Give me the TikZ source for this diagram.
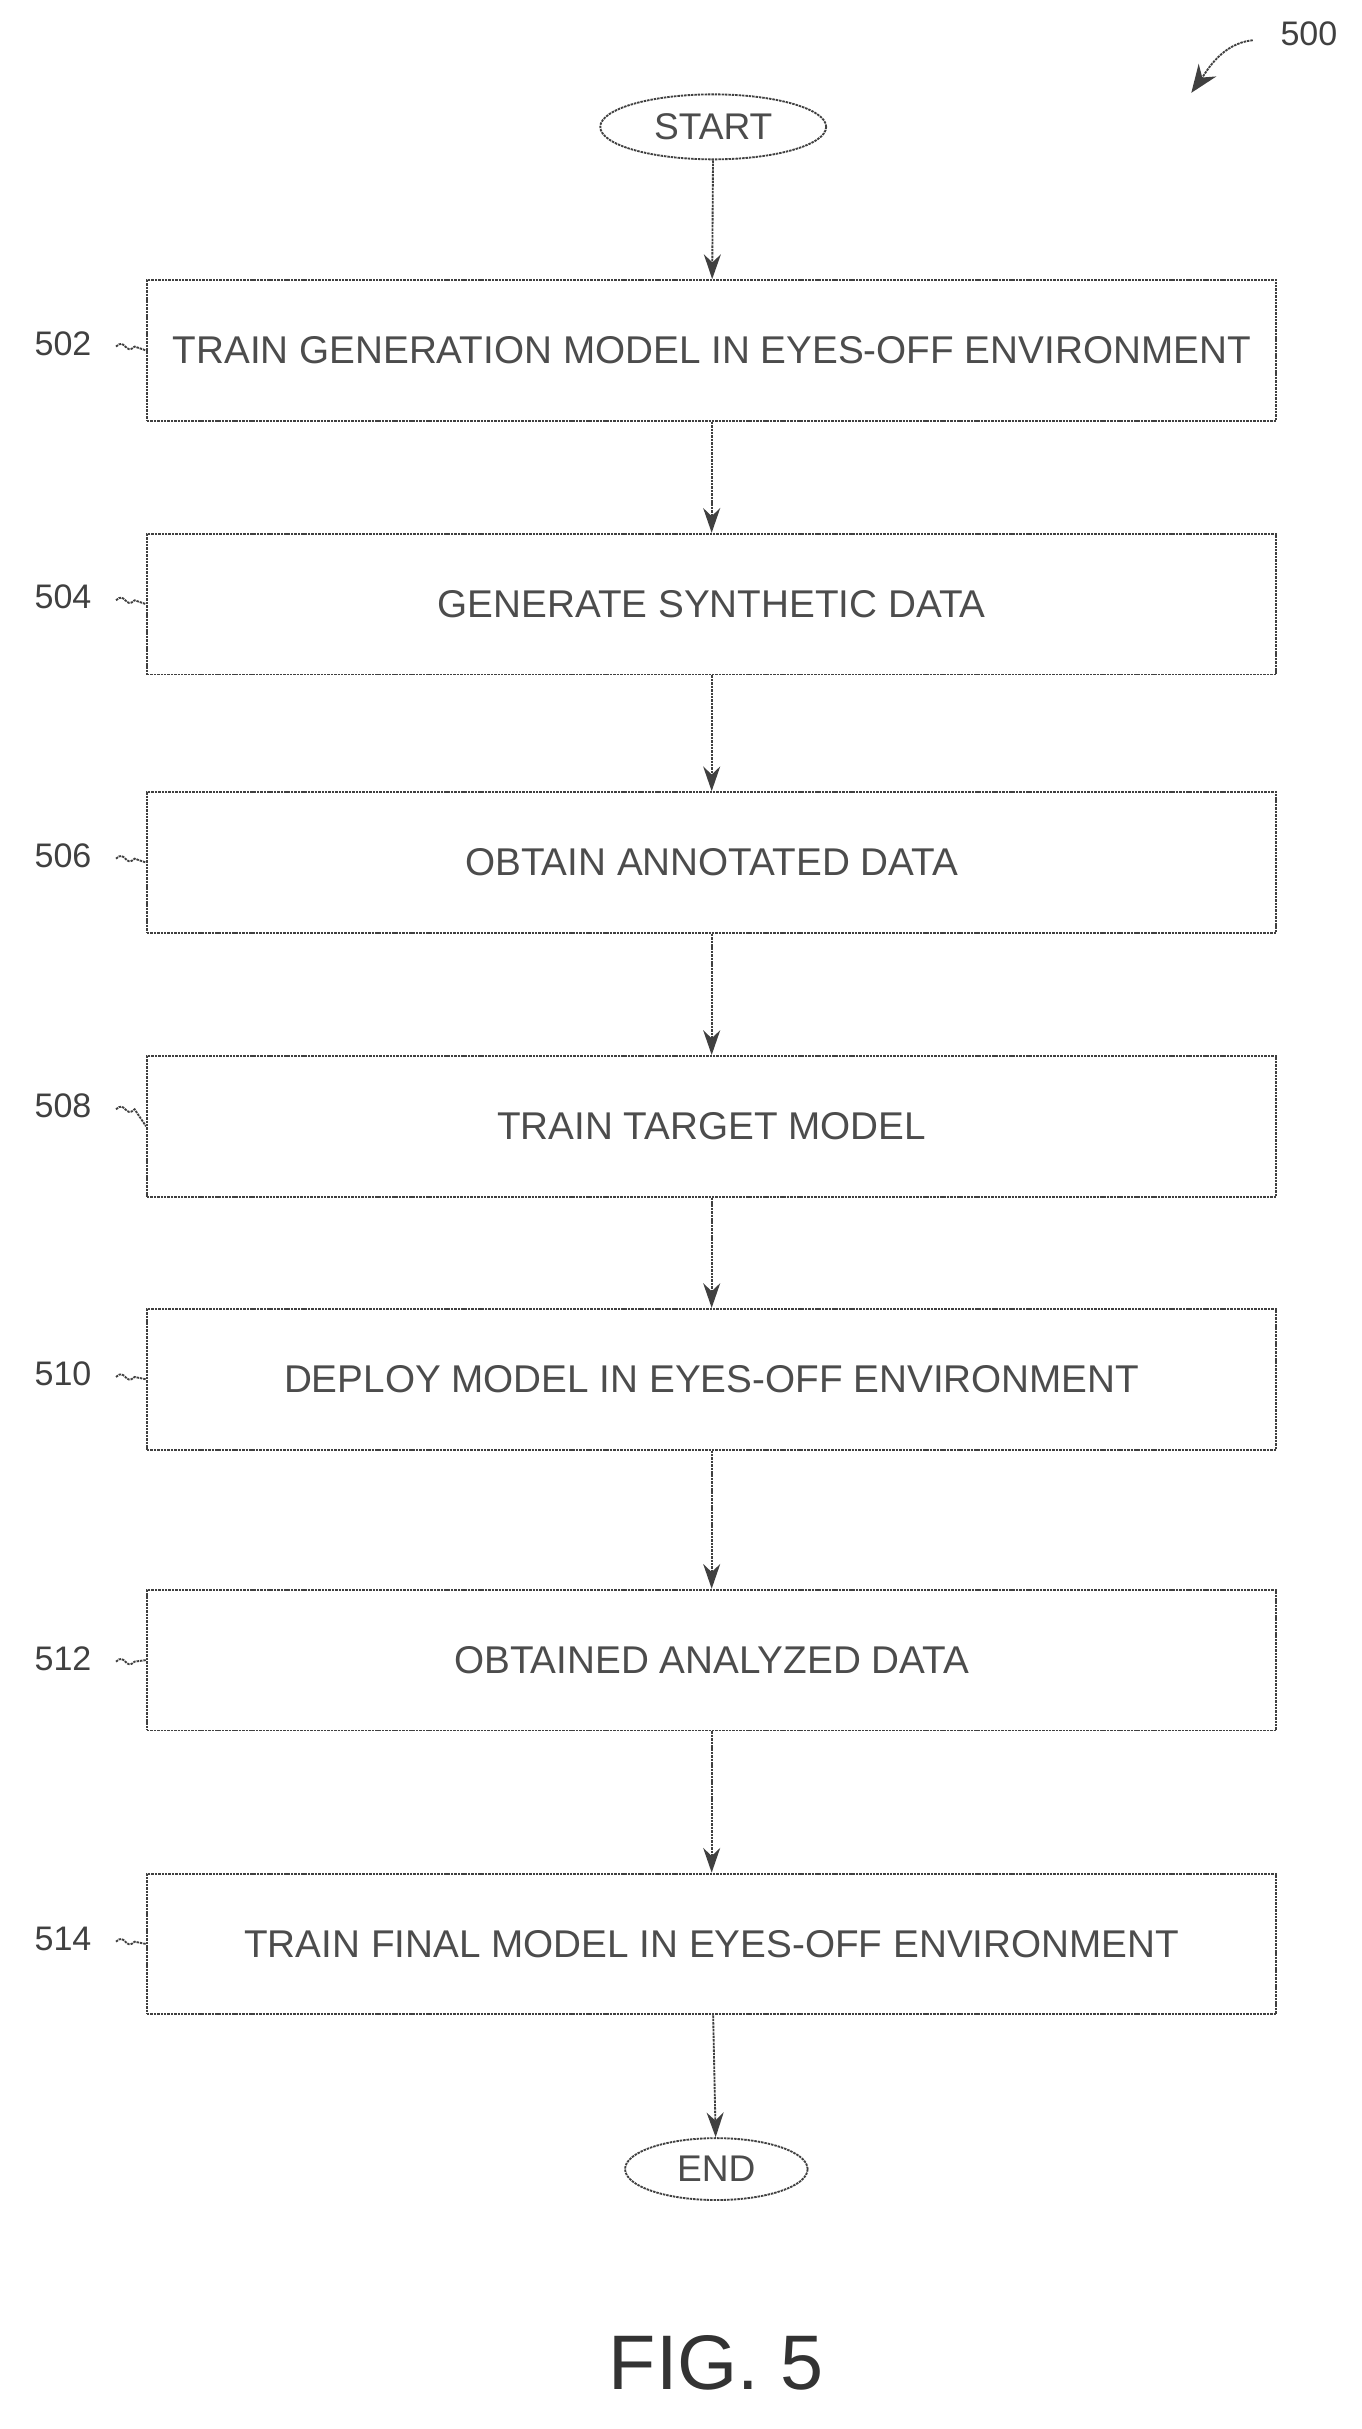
\documentclass[tikz,border=0pt]{standalone}
\usepackage{fontspec}
\setmainfont{Liberation Sans}
\usetikzlibrary{positioning,shapes.geometric,arrows.meta}
\tikzset{every picture/.style={line width=1.2pt}}
\tikzset{
  stepbox/.style={draw=black!75, dash pattern=on 1.6pt off 0.6pt, minimum width=730pt, minimum height=91pt, font=\fontsize{25}{28}\selectfont, text=black!70},
  term/.style={ellipse, draw=black!75, dash pattern=on 1.6pt off 0.6pt, font=\fontsize{24}{27}\selectfont, text=black!70, inner sep=0pt},
  flow/.style={draw=black!75, dash pattern=on 1.6pt off 0.6pt, -{Stealth[length=16pt,width=11pt]}},
  ref/.style={font=\fontsize{22}{24}\selectfont, text=black!75},
  lead/.style={draw=black!75, dash pattern=on 1.6pt off 0.6pt}
}
\begin{document}
\begin{tikzpicture}[x=1pt,y=-1pt]
	\useasboundingbox (0,0) rectangle (880,1570);
	% terminals
	\node [term, minimum width=146pt, minimum height=42pt] (start) at (461,82) {START};
	\node [term, minimum width=118pt, minimum height=40pt] (end) at (463,1402) {END};
	% steps
	\node [stepbox] (s502) at (460,226.5) {TRAIN GENERATION MODEL IN EYES-OFF ENVIRONMENT};
	\node [stepbox] (s504) at (460,390.5) {GENERATE SYNTHETIC DATA};
	\node [stepbox] (s506) at (460,557.5) {OBTAIN ANNOTATED DATA};
	\node [stepbox] (s508) at (460,728) {TRAIN TARGET MODEL};
	\node [stepbox] (s510) at (460,891.5) {DEPLOY MODEL IN EYES-OFF ENVIRONMENT};
	\node [stepbox] (s512) at (460,1073) {OBTAINED ANALYZED DATA};
	\node [stepbox] (s514) at (460,1256.5) {TRAIN FINAL MODEL IN EYES-OFF ENVIRONMENT};
	% arrows
	\draw [flow] (start) -- (s502);
	\draw [flow] (s502) -- (s504);
	\draw [flow] (s504) -- (s506);
	\draw [flow] (s506) -- (s508);
	\draw [flow] (s508) -- (s510);
	\draw [flow] (s510) -- (s512);
	\draw [flow] (s512) -- (s514);
	\draw [flow] (s514) -- (end);
	% reference numerals
	\foreach \n/\y in {502/222,504/386,506/553,508/715,510/888,512/1072,514/1253}{
		\node [ref, anchor=east] (r\n) at (63,\y) {\n};
		\draw [lead] (r\n.east) ++(12,2) .. controls +(6,-6) and +(-6,6) .. ++(12,0) -- (s\n.west);
	}
	\node [ref] (r500) at (846,22) {500};
	\coordinate (a500) at (770,60);
	\draw [flow, -{Stealth[length=18pt,width=14pt]}] (r500.west) ++(-14,4) .. controls +(-20,2) and +(10,-14) .. (a500);
	% figure label
	\node [font=\fontsize{50}{54}\selectfont, text=black!80] (fig) at (463,1527) {FIG. 5};
\end{tikzpicture}
\end{document}
